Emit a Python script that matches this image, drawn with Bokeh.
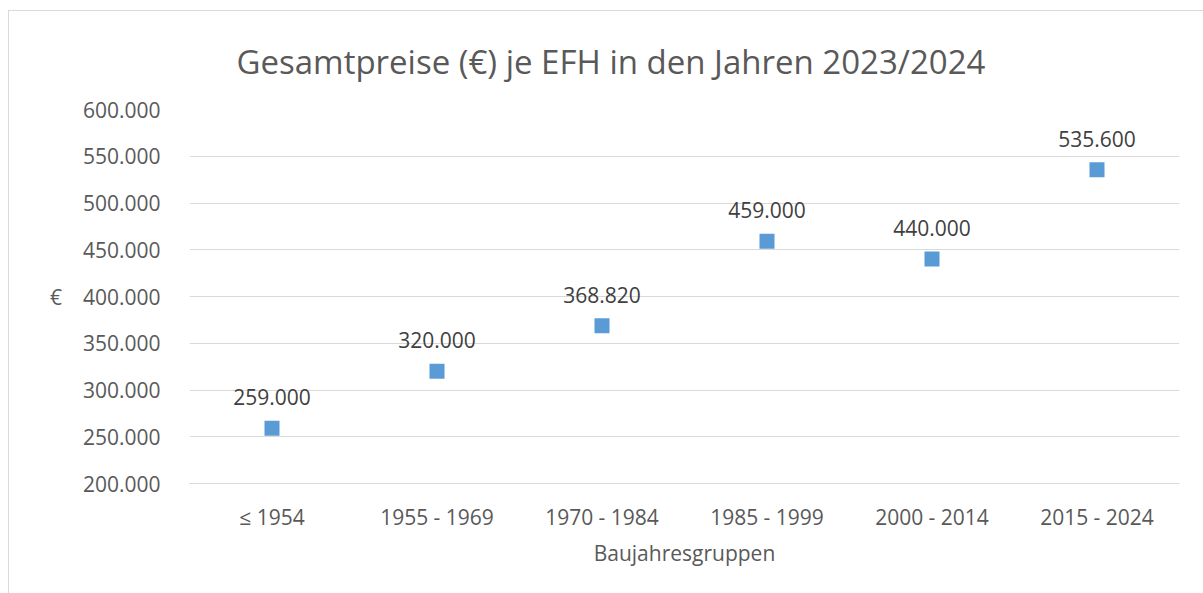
from bokeh.plotting import figure
from bokeh.models import ColumnDataSource, FactorRange, Range1d, CustomJSTickFormatter, FixedTicker
from bokeh.core.properties import value
from bokeh.embed import file_html
from bokeh.resources import INLINE

categories = ["≤ 1954", "1955 - 1969", "1970 - 1984", "1985 - 1999", "2000 - 2014", "2015 - 2024"]
prices = [259000, 320000, 368820, 459000, 440000, 535600]
y_ticks = [200000, 250000, 300000, 350000, 400000, 450000, 500000, 550000, 600000]
title_text = "Gesamtpreise (€) je EFH in den Jahren 2023/2024"
x_label = "Baujahresgruppen"
y_label = "€"

FONT = "Open Sans"
labels = [f"{v:,}".replace(",", ".") for v in prices]
src = ColumnDataSource(dict(x=categories, y=prices, lab=labels))

p = figure(x_range=FactorRange(*categories), y_range=Range1d(y_ticks[0], y_ticks[-1]),
           frame_width=990, frame_height=374,
           min_border_left=180, min_border_right=24, min_border_top=98, min_border_bottom=110,
           output_backend="svg", toolbar_location=None, title=title_text)
p.styles = {"margin-left": "8px", "margin-top": "10px",
            "border-left": "1px solid #d9d9d9", "border-top": "1px solid #d9d9d9"}
p.outline_line_color = None
p.background_fill_color = "white"
p.border_fill_color = "white"

p.title.align = "left"
p.title.offset = 47
p.title.text_font = FONT
p.title.text_font_size = "33px"
p.title.text_font_style = "normal"
p.title.text_color = "#595959"
p.title.standoff = 51

p.xgrid.grid_line_color = None
p.ygrid.grid_line_color = "#d9d9d9"
p.ygrid.grid_line_width = 1

p.yaxis.ticker = FixedTicker(ticks=y_ticks)
p.yaxis.formatter = CustomJSTickFormatter(code="return Math.round(tick).toString().replace(/\\B(?=(\\d{3})+(?!\\d))/g, '.');")
for ax in (p.xaxis[0], p.yaxis[0]):
    ax.major_tick_line_color = None
    ax.minor_tick_line_color = None
    ax.major_label_text_font = FONT
    ax.major_label_text_font_size = "21px"
    ax.major_label_text_color = "#595959"
    ax.axis_label_text_font = FONT
    ax.axis_label_text_font_size = "21px"
    ax.axis_label_text_font_style = "normal"
    ax.axis_label_text_color = "#595959"
p.yaxis.axis_line_color = None
p.xaxis.axis_line_color = "#d9d9d9"
p.yaxis.major_label_standoff = 23
p.xaxis.major_label_standoff = 13
p.xaxis.axis_label = x_label
p.xaxis.axis_label_standoff = 5
p.yaxis.axis_label = y_label
p.yaxis.axis_label_orientation = "horizontal"
p.yaxis.axis_label_standoff = 18

p.scatter(x="x", y="y", source=src, marker="square", size=15,
          fill_color="#5B9BD5", line_color=None)
p.text(x="x", y="y", text="lab", source=src, text_align="center", text_baseline="alphabetic",
       y_offset=-31, text_font=value(FONT), text_font_size="21px", text_color="#404040")

open("out.html", "w").write(file_html(p, INLINE))
